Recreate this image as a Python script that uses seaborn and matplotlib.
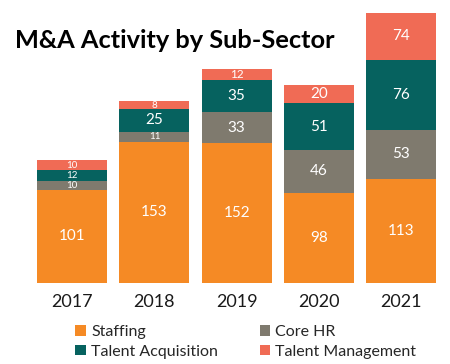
import numpy as np
import pandas as pd
import matplotlib
matplotlib.use("Agg")
import matplotlib.pyplot as plt
import seaborn as sns
from matplotlib.patches import Patch

years = ["2017", "2018", "2019", "2020", "2021"]
staffing = [101, 153, 152, 98, 113]
core_hr = [10, 11, 33, 46, 53]
talent_acq = [12, 25, 35, 51, 76]
talent_mgmt = [10, 8, 12, 20, 74]

series_names = ["Staffing", "Core HR", "Talent Acquisition", "Talent Management"]
colors = ["#F58A25", "#7F7A6E", "#06625F", "#F06B55"]

sns.set_theme(style="white")
plt.rcParams['font.family'] = ['Lato', 'DejaVu Sans']

fig = plt.figure(figsize=(4.5, 3.64), dpi=100)
ax = fig.add_axes([0.069, 0.2225, 0.914, 0.742])

layers = [staffing, core_hr, talent_acq, talent_mgmt]
cum = np.cumsum(np.array(layers, dtype=float), axis=0)
YMAX = 293

# draw from top layer down so each lower layer overlays
for i in range(len(layers) - 1, -1, -1):
    df = pd.DataFrame({"year": years, "val": cum[i]})
    sns.barplot(data=df, x="year", y="val", color=colors[i], width=0.85,
                saturation=1, ax=ax, linewidth=0, edgecolor="none")

ax.set_ylim(0, YMAX)
ax.set_xlim(-0.5, 4.5)

for i in range(len(layers)):
    for j in range(len(years)):
        v = layers[i][j]
        lo = cum[i][j] - v
        hi = min(cum[i][j], YMAX)
        yc = (lo + hi) / 2
        fs = 11 if v >= 20 else (8.5 if v == 12 and j == 2 else 7)
        ax.text(j, yc, str(v), ha="center", va="center", color="white", fontsize=fs)

ax.set_xlabel("")
ax.set_ylabel("")
ax.set_yticks([])
ax.tick_params(axis="x", length=0, labelsize=13, pad=8, colors="#1a1a1a")
for s in ax.spines.values():
    s.set_visible(False)

fig.text(0.033, 0.89, "M&A Activity by Sub-Sector", fontsize=18.3, fontweight="bold",
         ha="left", va="center", color="black")

# row-wise legend order: matplotlib fills columns first
order = [0, 2, 1, 3]
handles = [Patch(facecolor=colors[k], edgecolor="none") for k in order]
labels = [series_names[k] for k in order]
fig.legend(handles, labels, loc="lower left", bbox_to_anchor=(0.135, -0.025),
           ncol=2, frameon=False, fontsize=11.5, handlelength=0.65, handleheight=0.65,
           handletextpad=0.35, columnspacing=2.6, labelspacing=0.35)

fig.savefig("out.png", dpi=100)
